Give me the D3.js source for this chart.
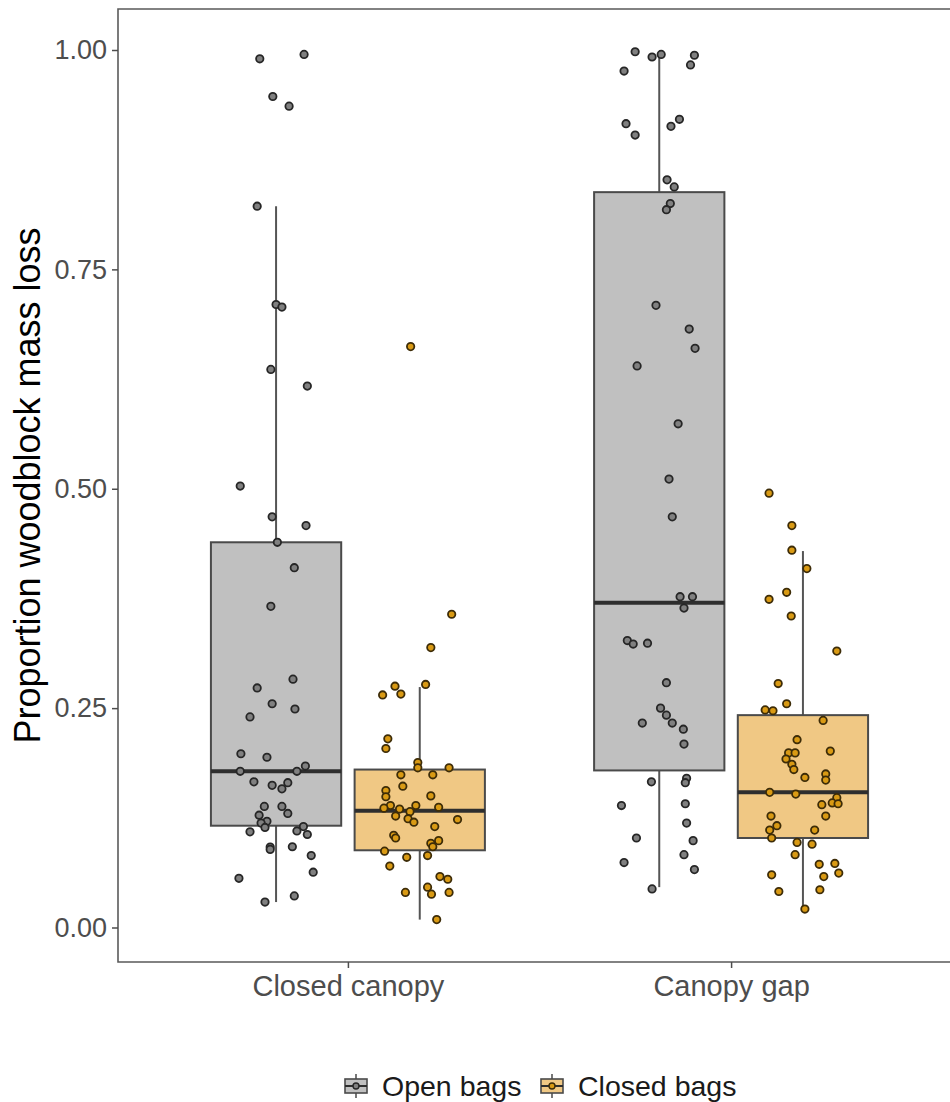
<!DOCTYPE html>
<html><head><meta charset="utf-8">
<script src="https://cdn.jsdelivr.net/npm/d3@7"></script>
<style>
html,body{margin:0;padding:0;background:#fff;}
svg{display:block;font-family:"Liberation Sans",Arial,Helvetica,sans-serif;}
</style></head>
<body><svg id="chart" width="950" height="1102"></svg>
<script>
// ---- data ----
const categories = ["Closed canopy", "Canopy gap"];
const seriesNames = ["Open bags", "Closed bags"];
const yTicks = [0, 0.25, 0.5, 0.75, 1.0];
const yTickLabels = ["0.00", "0.25", "0.50", "0.75", "1.00"];
const yTitle = "Proportion woodblock mass loss";

// box statistics: [lower whisker, Q1, median, Q3, upper whisker]
const boxClosedCanopyOpen   = [0.029, 0.116, 0.178, 0.439, 0.822];
const boxClosedCanopyClosed = [0.009, 0.088, 0.133, 0.180, 0.274];
const boxCanopyGapOpen      = [0.046, 0.179, 0.370, 0.838, 0.995];
const boxCanopyGapClosed    = [0.021, 0.102, 0.154, 0.242, 0.429];

// jittered observations: values and jitter (fraction of half box width)
const ccOpenValues = [0.990,0.995,0.947,0.936,0.822,0.710,0.707,0.636,0.617,0.503,0.468,0.458,0.439,0.410,0.366,0.283,0.273,0.255,0.249,0.240,0.198,0.194,0.184,0.178,0.178,0.166,0.162,0.158,0.165,0.138,0.138,0.130,0.128,0.121,0.119,0.114,0.115,0.109,0.110,0.106,0.0916,0.089,0.092,0.082,0.063,0.056,0.029,0.036];
const ccOpenJitter = [-0.25,0.43,-0.05,0.2,-0.29,0,0.09,-0.08,0.48,-0.55,-0.06,0.46,0.02,0.28,-0.08,0.26,-0.29,-0.06,0.29,-0.4,-0.54,-0.14,0.45,-0.55,0.32,-0.34,-0.06,0.09,0.18,-0.18,0.09,0.18,-0.26,-0.14,-0.23,-0.17,0.42,-0.4,0.32,0.48,-0.09,-0.09,0.25,0.54,0.57,-0.57,-0.17,0.28];

const ccClosedValues = [0.662,0.357,0.319,0.277,0.275,0.266,0.265,0.215,0.204,0.188,0.182,0.182,0.174,0.174,0.161,0.156,0.149,0.150,0.139,0.139,0.136,0.135,0.137,0.132,0.127,0.124,0.123,0.120,0.115,0.105,0.102,0.099,0.096,0.092,0.087,0.080,0.082,0.070,0.058,0.055,0.046,0.038,0.040,0.040,0.009];
const ccClosedJitter = [-0.14,0.49,0.17,0.09,-0.38,-0.29,-0.57,-0.49,-0.52,-0.03,-0.03,0.45,-0.29,0.2,-0.26,-0.52,-0.52,0.17,-0.45,-0.06,-0.55,-0.31,0.29,-0.15,-0.37,-0.18,0.58,-0.09,0.23,-0.4,-0.37,0.29,0.17,0.2,-0.54,-0.2,0.12,-0.46,0.31,0.43,0.12,0.18,-0.22,0.45,0.26];

const cgOpenValues = [0.998,0.992,0.995,0.994,0.983,0.976,0.916,0.903,0.921,0.913,0.852,0.844,0.825,0.818,0.709,0.682,0.660,0.640,0.574,0.511,0.468,0.377,0.377,0.364,0.327,0.323,0.324,0.279,0.250,0.242,0.233,0.233,0.226,0.209,0.166,0.170,0.165,0.139,0.141,0.119,0.102,0.099,0.083,0.074,0.066,0.044];
const cgOpenJitter = [-0.37,-0.11,0.03,0.54,0.48,-0.54,-0.51,-0.37,0.31,0.18,0.12,0.23,0.17,0.11,-0.05,0.46,0.55,-0.34,0.29,0.15,0.2,0.32,0.51,0.38,-0.49,-0.4,-0.18,0.11,0.02,0.11,-0.26,0.2,0.37,0.38,-0.12,0.42,0.4,-0.58,0.4,0.42,-0.35,0.52,0.38,-0.54,0.54,-0.11];

const cgClosedValues = [0.495,0.458,0.430,0.409,0.382,0.374,0.355,0.315,0.278,0.255,0.248,0.247,0.236,0.214,0.201,0.199,0.199,0.192,0.186,0.180,0.175,0.168,0.171,0.154,0.152,0.148,0.142,0.141,0.140,0.127,0.127,0.116,0.111,0.102,0.111,0.097,0.095,0.083,0.072,0.073,0.062,0.058,0.060,0.041,0.043,0.021];
const cgClosedJitter = [-0.52,-0.17,-0.17,0.06,-0.25,-0.52,-0.18,0.52,-0.38,-0.25,-0.58,-0.46,0.31,-0.09,0.42,-0.22,-0.12,-0.26,-0.17,-0.14,0.35,0.35,0.03,-0.51,-0.11,0.52,0.45,0.54,0.29,0.35,-0.49,-0.4,-0.51,-0.48,0.18,-0.09,0.14,-0.12,0.25,0.49,0.55,0.32,-0.48,-0.37,0.26,0.03];

// ---- build ----
const groups = [
  {cat:0, ser:0, box:boxClosedCanopyOpen,   vals:ccOpenValues,   jit:ccOpenJitter},
  {cat:0, ser:1, box:boxClosedCanopyClosed, vals:ccClosedValues, jit:ccClosedJitter},
  {cat:1, ser:0, box:boxCanopyGapOpen,      vals:cgOpenValues,   jit:cgOpenJitter},
  {cat:1, ser:1, box:boxCanopyGapClosed,    vals:cgClosedValues, jit:cgClosedJitter}
];

const boxFill = ["#c0c0c0", "#f0c884"];
const ptFill  = ["#808080", "#d99a14"];
const ptStroke = ["#262626", "#3d2c08"];

const svg = d3.select("#chart");
const panel = {left:118, top:9, bottom:962, right:961};

const x = d3.scaleLinear().domain([0.4, 2.6]).range([panel.left, panel.right]);
const y = d3.scaleLinear().domain([0, 1]).range([927.5, 50]);
const dodge = 0.1875, halfW = 0.17;
const unit = x(1) - x(0);

const plot = svg.append("g");

// panel border (left, top, bottom)
plot.append("path")
  .attr("d", `M${panel.right},${panel.top}H${panel.left}V${panel.bottom}H${panel.right}`)
  .attr("fill","none").attr("stroke","#5a5a5a").attr("stroke-width",1.6);

// y axis
const yAxis = d3.axisLeft(y).tickValues(yTicks).tickFormat((d,i)=>yTickLabels[i]).tickSize(6).tickPadding(5);
const ya = svg.append("g").attr("transform",`translate(${panel.left},0)`).call(yAxis);
ya.select(".domain").remove();
ya.selectAll(".tick line").attr("stroke","#4d4d4d").attr("stroke-width",1.5);
ya.selectAll(".tick text").attr("fill","#4d4d4d").attr("font-size",27).attr("font-family","Liberation Sans, Arial, sans-serif");

// x axis
const xAxis = d3.axisBottom(x).tickValues([1,2]).tickFormat((d)=>categories[d-1]).tickSize(6).tickPadding(7);
const xa = svg.append("g").attr("transform",`translate(0,${panel.bottom})`).call(xAxis);
xa.select(".domain").remove();
xa.selectAll(".tick line").attr("stroke","#4d4d4d").attr("stroke-width",1.5);
xa.selectAll(".tick text").attr("fill","#4d4d4d").attr("font-size",29).attr("font-family","Liberation Sans, Arial, sans-serif");

// y title
svg.append("text")
  .attr("transform",`translate(40,${(panel.top+panel.bottom)/2}) rotate(-90)`)
  .attr("text-anchor","middle").attr("font-size",36).attr("fill","#000")
  .text(yTitle);

// boxes
groups.forEach(g => {
  const cx = x(g.cat + 1 + (g.ser === 0 ? -dodge : dodge));
  const hw = halfW * unit;
  const [lo, q1, med, q3, hi] = g.box;
  const gg = plot.append("g");
  gg.append("line").attr("x1",cx).attr("x2",cx).attr("y1",y(q3)).attr("y2",y(hi))
    .attr("stroke","#555").attr("stroke-width",2);
  gg.append("line").attr("x1",cx).attr("x2",cx).attr("y1",y(q1)).attr("y2",y(lo))
    .attr("stroke","#555").attr("stroke-width",2);
  gg.append("rect").attr("x",cx-hw).attr("width",2*hw).attr("y",y(q3)).attr("height",y(q1)-y(q3))
    .attr("fill",boxFill[g.ser]).attr("stroke","#4a4a4a").attr("stroke-width",2);
  gg.append("line").attr("x1",cx-hw).attr("x2",cx+hw).attr("y1",y(med)).attr("y2",y(med))
    .attr("stroke","#2e2e2e").attr("stroke-width",4);
});

// points
groups.forEach(g => {
  const cx = x(g.cat + 1 + (g.ser === 0 ? -dodge : dodge));
  const hw = halfW * unit;
  plot.append("g").selectAll("circle").data(g.vals).join("circle")
    .attr("cx",(d,i)=>cx + g.jit[i]*hw)
    .attr("cy",d=>y(d))
    .attr("r",3.7)
    .attr("fill",ptFill[g.ser]).attr("stroke",ptStroke[g.ser]).attr("stroke-width",1.8);
});

// legend
const leg = svg.append("g").attr("transform","translate(0,1086)");
const legItems = [{x:345, label:seriesNames[0], s:0},{x:541, label:seriesNames[1], s:1}];
legItems.forEach(it => {
  const g = leg.append("g").attr("transform",`translate(${it.x},0)`);
  g.append("line").attr("x1",11).attr("x2",11).attr("y1",-12).attr("y2",12).attr("stroke","#555").attr("stroke-width",1.6);
  g.append("rect").attr("x",0).attr("y",-7).attr("width",22).attr("height",14)
    .attr("fill",boxFill[it.s]).attr("stroke","#4a4a4a").attr("stroke-width",1.6);
  g.append("line").attr("x1",0).attr("x2",22).attr("y1",0).attr("y2",0).attr("stroke","#2e2e2e").attr("stroke-width",2);
  g.append("circle").attr("cx",11).attr("cy",0).attr("r",3).attr("fill",ptFill[it.s]).attr("stroke",ptStroke[it.s]).attr("stroke-width",1.4);
  g.append("text").attr("x",37).attr("y",0).attr("dy","0.36em").attr("font-size",28.5).attr("fill","#1a1a1a").text(it.label);
});
</script></body></html>
